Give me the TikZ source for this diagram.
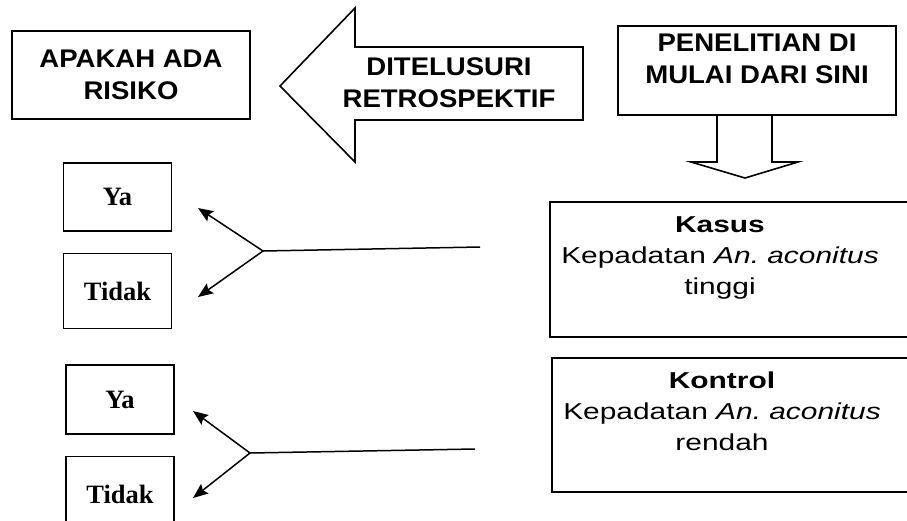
\documentclass[tikz,border=0pt]{standalone}
\usepackage{fontspec}
\usepackage{tikz}
\usetikzlibrary{arrows.meta,positioning}
\newfontfamily\hdrfont[FakeStretch=1.08]{Liberation Sans}
\newfontfamily\bodyfont[FakeStretch=1.3]{Liberation Sans}
\newfontfamily\ansfont{Liberation Serif}

\begin{document}
\begin{tikzpicture}[x=1pt,y=-1pt,
	box/.style={draw,line width=1.6pt,inner sep=0pt},
	hdr/.style={align=center,font=\hdrfont\bfseries\fontsize{25.5}{32}\selectfont},
	body/.style={align=center,font=\bodyfont\fontsize{23}{31}\selectfont},
	ans/.style={box,minimum width=108pt,font=\ansfont\bfseries\fontsize{26.5}{30}\selectfont},
	pick/.style={line width=1.5pt,-{Stealth[length=15pt,width=12pt,inset=2.5pt]}}]
	\useasboundingbox (0,0) rectangle (907,520);
	\clip (0,0) rectangle (907,520);
	% top row
	\node[box,hdr,minimum width=238pt,minimum height=88pt] (risiko) at (131,75) {APAKAH ADA\\RISIKO};
	\draw[line width=1.6pt] (583,47) -- (355,47) -- (355,8) -- (280,86) -- (355,162) -- (355,120) -- (583,120) -- cycle;
	\node[hdr] (retro) at (449,83) {DITELUSURI\\RETROSPEKTIF};
	\node[box,minimum width=278pt,minimum height=89pt] (start) at (757,70.5) {};
	\node[hdr] (starttxt) at (757,59) {PENELITIAN DI\\MULAI DARI SINI};
	\draw[line width=1.6pt] (717,115) -- (717,162) -- (691,162) -- (745,178) -- (798,162) -- (772,162) -- (772,115);
	% kasus / kontrol
	\node[box,minimum width=365pt,minimum height=135pt] (kasus) at (732.5,269.5) {};
	\node[body] (kasustxt) at (720,258) {\textbf{Kasus}\\Kepadatan \textit{An.\ aconitus}\\tinggi};
	\node[box,minimum width=363pt,minimum height=134pt] (kontrol) at (733.5,425) {};
	\node[body] (kontroltxt) at (722,411) {\textbf{Kontrol}\\Kepadatan \textit{An.\ aconitus}\\rendah};
	% jawaban
	\node[ans,minimum height=68pt] (ya1) at (117.5,197) {Ya};
	\node[ans,minimum height=75pt,below=21pt of ya1] (tidak1) {Tidak};
	\node[ans,minimum height=69pt] (ya2) at (120,399.5) {Ya};
	\node[ans,minimum height=75pt,below=21pt of ya2] (tidak2) {Tidak};
	\coordinate (in1) at (480,247);
	\coordinate (fork1) at (263,251);
	\coordinate (ya1tip) at (198,208);
	\coordinate (tidak1tip) at (198,297);
	\coordinate (in2) at (475,449);
	\coordinate (fork2) at (250,453);
	\coordinate (ya2tip) at (193,411);
	\coordinate (tidak2tip) at (193,498);
	\draw[line width=1.5pt] (in1) -- (fork1);
	\draw[pick] (fork1) -- (ya1tip);
	\draw[pick] (fork1) -- (tidak1tip);
	\draw[line width=1.5pt] (in2) -- (fork2);
	\draw[pick] (fork2) -- (ya2tip);
	\draw[pick] (fork2) -- (tidak2tip);
\end{tikzpicture}
\end{document}
